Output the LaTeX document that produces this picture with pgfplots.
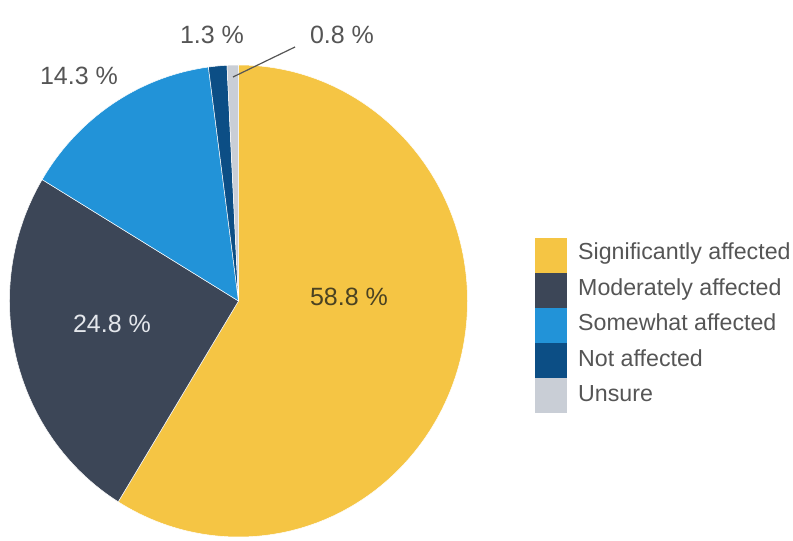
\documentclass[border=0pt]{standalone}
\usepackage{fontspec}
\setmainfont{Liberation Sans}
\usepackage{pgfplots}
\usepackage{pgfplotstable}
\pgfplotsset{compat=1.18}
\definecolor{cSig}{HTML}{F5C544}
\definecolor{cMod}{HTML}{3C4657}
\definecolor{cSome}{HTML}{2293D8}
\definecolor{cNot}{HTML}{0C4E85}
\definecolor{cUns}{HTML}{C9CED6}
\definecolor{lblgray}{HTML}{555555}
\definecolor{lbldark}{HTML}{4A4222}
\definecolor{lbllight}{HTML}{E4E7EC}
\pgfplotstableread[col sep=comma]{
name,value,col
Significantly affected,58.8,cSig
Moderately affected,24.8,cMod
Somewhat affected,14.3,cSome
Not affected,1.3,cNot
Unsure,0.8,cUns
}\piedata
\begin{document}
\begin{tikzpicture}
\begin{axis}[width=793bp, height=541bp, scale only axis,
  xmin=0, xmax=793, ymin=0, ymax=541, hide axis, clip=false]
\coordinate (BL) at (axis cs:0,0);
\coordinate (TR) at (axis cs:793,541);
\pgfplotstablegetrowsof{\piedata}%
\pgfmathtruncatemacro\lastrow{\pgfplotsretval-1}%
\gdef\cumang{90}%
\pgfplotsforeachungrouped \i in {0,...,\lastrow}{%
  \pgfplotstablegetelem{\i}{value}\of\piedata \let\sliceval\pgfplotsretval
  \pgfplotstablegetelem{\i}{col}\of\piedata \let\slicecol\pgfplotsretval
  \pgfplotstablegetelem{\i}{name}\of\piedata \let\slicename\pgfplotsretval
  \pgfmathsetmacro\endang{\cumang-3.6*\sliceval}%
  \pgfmathsetmacro\sx{238.5+229*cos(\cumang)}%
  \pgfmathsetmacro\sy{240+236*sin(\cumang)}%
  \pgfmathsetmacro\ltop{303-35*\i}%
  \pgfmathsetmacro\lbot{268-35*\i}%
  \pgfmathsetmacro\lbase{281-35.5*\i}%
  \edef\temp{%
    \noexpand\fill[\slicecol, draw=white, line width=0.5bp] (axis cs:238.5,240) -- (axis cs:\sx,\sy)
      arc[start angle=\cumang, end angle=\endang, x radius=229bp, y radius=236bp] -- cycle;
    \noexpand\fill[\slicecol] (axis cs:535,\lbot) rectangle (axis cs:567,\ltop);
    \noexpand\node[anchor=base west, inner sep=0pt, text=lblgray, font=\noexpand\fontsize{23.2bp}{26bp}\noexpand\selectfont]
      at (axis cs:578,\lbase) {\slicename};
  }%
  \temp
  \global\let\cumang\endang
}%
\node[text=lbldark, font=\fontsize{25bp}{30bp}\selectfont] at (axis cs:349,244) {58.8 \%};
\node[text=lbllight, font=\fontsize{25bp}{30bp}\selectfont] at (axis cs:112,217) {24.8 \%};
\node[text=lblgray, font=\fontsize{25bp}{30bp}\selectfont] at (axis cs:79,465) {14.3 \%};
\node[text=lblgray, font=\fontsize{25bp}{30bp}\selectfont] at (axis cs:212,506) {1.3 \%};
\node[text=lblgray, font=\fontsize{25bp}{30bp}\selectfont] at (axis cs:342,506) {0.8 \%};
\draw[lblgray, line width=1.2bp] (axis cs:295,494) -- (axis cs:233,464);
\end{axis}
\pgfresetboundingbox
\useasboundingbox (BL) rectangle (TR);
\end{tikzpicture}
\end{document}
